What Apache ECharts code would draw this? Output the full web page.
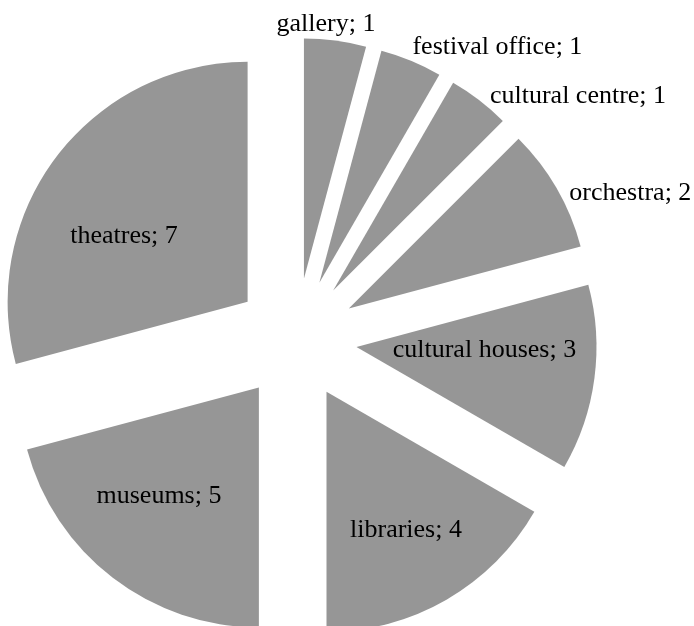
<!DOCTYPE html>
<html>
<head>
<meta charset="utf-8">
<script src="https://cdn.jsdelivr.net/npm/echarts@6/dist/echarts.min.js"></script>
<style>
  html, body { margin: 0; padding: 0; background: #ffffff; }
  #chart { width: 694px; height: 626px; }
</style>
</head>
<body>
<div id="chart"></div>
<script>
// Institutions by type, clockwise from twelve o'clock
const categories = ['gallery', 'festival office', 'cultural centre', 'orchestra',
                    'cultural houses', 'libraries', 'museums', 'theatres'];
const counts = [1, 1, 1, 2, 3, 4, 5, 7];

// Nudge [dx, dy] in px from each slice's default inside label spot;
// the thin slices carry their labels just beyond the rim
const labelNudges = [
  [6, -132], [131, -122], [170, -97], [175, -54],
  [6, -13], [18, 32], [-25, 11], [-26, 9]
];

const chart = echarts.init(document.getElementById('chart'), null, { renderer: 'canvas' });

chart.setOption({
  animation: false,
  backgroundColor: '#ffffff',
  series: [{
    type: 'pie',
    center: [296, 339],
    radius: 240,
    startAngle: 90,
    clockwise: true,
    // every slice is pulled out from the centre
    selectedMode: 'multiple',
    selectedOffset: 61,
    avoidLabelOverlap: false,
    itemStyle: { color: '#969696', borderWidth: 0 },
    select: { itemStyle: { color: '#969696', borderWidth: 0 } },
    emphasis: { disabled: true },
    label: {
      show: true,
      position: 'inside',
      formatter: p => p.name + '; ' + p.value,
      fontFamily: '"Liberation Serif", "Times New Roman", serif',
      fontSize: 26,
      color: '#000000'
    },
    labelLine: { show: false },
    labelLayout: params => {
      const n = labelNudges[params.dataIndex];
      return { dx: n[0], dy: n[1] };
    },
    data: categories.map((name, i) => ({ name: name, value: counts[i], selected: true }))
  }]
});
</script>
</body>
</html>
